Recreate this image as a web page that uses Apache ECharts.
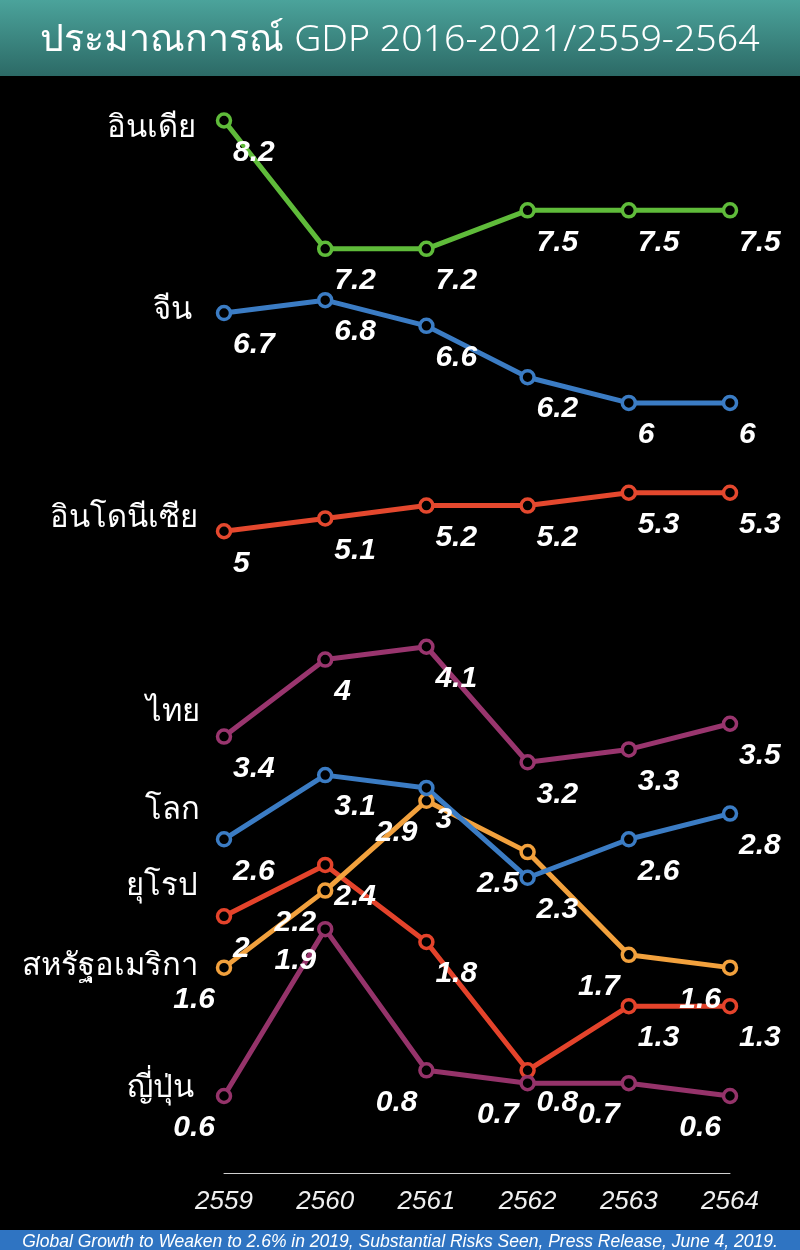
<!DOCTYPE html>
<html>
<head>
<meta charset="utf-8">
<script src="https://cdn.jsdelivr.net/npm/echarts@6/dist/echarts.min.js"></script>
<style>
  html, body { margin: 0; padding: 0; background: #000; }
  #chart { width: 800px; height: 1250px; }
</style>
</head>
<body>
<div id="chart"></div>
<script>
// Buddhist-era years on the category axis
const years = ['2559', '2560', '2561', '2562', '2563', '2564'];

// GDP growth forecasts (%)
const india     = [8.2, 7.2, 7.2, 7.5, 7.5, 7.5];
const china     = [6.7, 6.8, 6.6, 6.2, 6, 6];
const indonesia = [5, 5.1, 5.2, 5.2, 5.3, 5.3];
const thailand  = [3.4, 4, 4.1, 3.2, 3.3, 3.5];
const world     = [2.6, 3.1, 3, 2.3, 2.6, 2.8];
const europe    = [2, 2.4, 1.8, 0.8, 1.3, 1.3];
const usa       = [1.6, 2.2, 2.9, 2.5, 1.7, 1.6];
const japan     = [0.6, 1.9, 0.8, 0.7, 0.7, 0.6];

const titleText = 'ประมาณการณ์ GDP 2016-2021/2559-2564';
const sourceText = 'Global Growth to Weaken to 2.6% in 2019, Substantial Risks Seen, Press Release, June 4, 2019.';

const chart = echarts.init(document.getElementById('chart'));

const valueFont = {
  color: '#fff',
  fontSize: 30,
  fontWeight: 'bold',
  fontStyle: 'italic',
  fontFamily: '"Liberation Sans", Arial, sans-serif'
};

// side: 'right' puts the value below-right of the point, 'left' below-left
function lineSeries(name, data, color, side) {
  return {
    name: name,
    type: 'line',
    data: data,
    symbol: 'circle',
    symbolSize: 13,
    lineStyle: { color: color, width: 5 },
    itemStyle: { color: '#000', borderColor: color, borderWidth: 3.5 },
    label: Object.assign({
      show: true,
      position: 'inside',
      align: side === 'right' ? 'left' : 'right',
      verticalAlign: 'middle',
      offset: side === 'right' ? [9, 32] : [-9, 32]
    }, valueFont),
    emphasis: { disabled: true },
    animation: false
  };
}

const nameFont = {
  fill: '#fff',
  font: '300 31px "Noto Sans", "DejaVu Sans", sans-serif',
  textAlign: 'right',
  textVerticalAlign: 'middle'
};

function nameText(text, x, y) {
  return { type: 'text', x: x, y: y, style: Object.assign({ text: text }, nameFont) };
}

chart.setOption({
  backgroundColor: '#000',
  animation: false,
  title: {
    text: titleText,
    left: 'center',
    top: 16,
    textStyle: {
      color: '#fff',
      fontSize: 37.5,
      fontWeight: 300,
      fontFamily: '"Noto Sans", "DejaVu Sans", sans-serif'
    }
  },
  grid: { left: 224, right: 70, top: 82, bottom: 77 },
  xAxis: {
    type: 'category',
    data: years,
    boundaryGap: false,
    axisLine: { lineStyle: { color: '#d0d0d0', width: 1 } },
    axisTick: { show: false },
    axisLabel: {
      color: '#f0f0f0',
      fontSize: 26,
      fontStyle: 'italic',
      fontFamily: '"Liberation Sans", Arial, sans-serif',
      margin: 16
    },
    splitLine: { show: false }
  },
  yAxis: {
    type: 'value',
    min: 0,
    max: 8.5,
    show: false
  },
  series: [
    lineSeries('อินเดีย', india, '#5fbb3a', 'right'),
    lineSeries('จีน', china, '#3b7cc4', 'right'),
    lineSeries('อินโดนีเซีย', indonesia, '#e4482e', 'right'),
    lineSeries('ไทย', thailand, '#99356e', 'right'),
    lineSeries('ยุโรป', europe, '#e4432b', 'right'),
    lineSeries('สหรัฐอเมริกา', usa, '#f2a13d', 'left'),
    lineSeries('โลก', world, '#3b7cc4', 'right'),
    lineSeries('ญี่ปุ่น', japan, '#95336a', 'left')
  ],
  graphic: [
    {
      type: 'rect',
      z: -10,
      shape: { x: 0, y: 0, width: 800, height: 76 },
      style: {
        fill: new echarts.graphic.LinearGradient(0, 0, 0, 1, [
          { offset: 0, color: '#4ba39b' },
          { offset: 1, color: '#2c6a66' }
        ])
      }
    },
    {
      type: 'rect',
      z: -10,
      shape: { x: 0, y: 1230, width: 800, height: 20 },
      style: { fill: '#2f74c2' }
    },
    {
      type: 'text',
      x: 400,
      y: 1242,
      style: {
        text: sourceText,
        fill: '#fff',
        font: 'italic 17.5px "Liberation Sans", Arial, sans-serif',
        textAlign: 'center',
        textVerticalAlign: 'middle'
      }
    },
    nameText('อินเดีย', 196, 128),
    nameText('จีน', 192, 310),
    nameText('อินโดนีเซีย', 198, 518),
    nameText('ไทย', 200, 712),
    nameText('โลก', 200, 810),
    nameText('ยุโรป', 198, 886),
    nameText('สหรัฐอเมริกา', 198, 966),
    nameText('ญี่ปุ่น', 194, 1088)
  ]
});
</script>
</body>
</html>
